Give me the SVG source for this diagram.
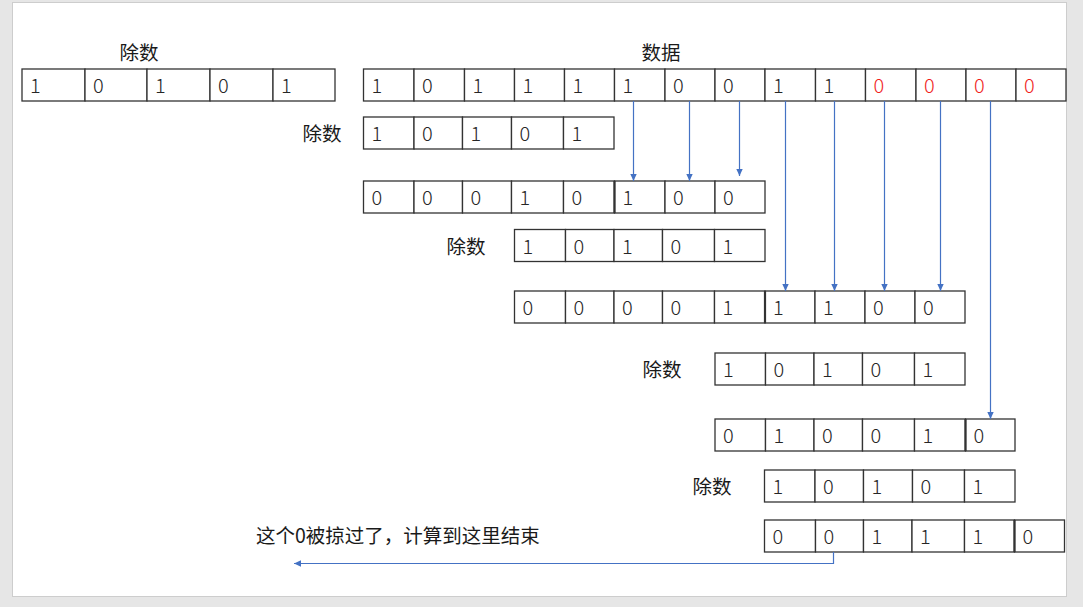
<svg xmlns="http://www.w3.org/2000/svg" width="1083" height="607" viewBox="0 0 1083 607">
<style>
.c{fill:#fff;stroke:#333;stroke-width:1.3}
.sp{stroke:#333;stroke-width:2.2}
.d{font-family:"Noto Sans CJK SC","Liberation Sans",sans-serif;font-size:20px;font-weight:300;fill:#262626}
.r{fill:#f01e1e}
.l{font-family:"Noto Sans CJK SC",sans-serif;font-size:19.5px;fill:#1a1a1a}
.a{stroke:#4472C4;stroke-width:1.2;fill:none}
</style>
<defs>
<marker id="ah" markerUnits="userSpaceOnUse" markerWidth="8" markerHeight="8" viewBox="0 0 8 8" refX="7" refY="4" orient="auto">
<path d="M0,0.8 L7,4 L0,7.2 Z" fill="#4472C4"/>
</marker>
</defs>
<rect x="0" y="0" width="1083" height="607" fill="#e6e6e6"/>
<rect x="12.5" y="2.5" width="1054" height="594" fill="#fff" stroke="#cdcdcd" stroke-width="1"/>

<g id="label-divisor-top"><text class="l" x="139" y="60" text-anchor="middle">除数</text></g>
<g id="label-data"><text class="l" x="661" y="60" text-anchor="middle">数据</text></g>

<g id="row-divisor-top">
<rect class="c" x="22" y="69" width="63" height="32"/><rect class="c" x="85" y="69" width="62" height="32"/><rect class="c" x="147" y="69" width="63" height="32"/><rect class="c" x="210" y="69" width="63" height="32"/><rect class="c" x="273" y="69" width="62" height="32"/>
<text class="d" x="30" y="93">1</text><text class="d" x="93" y="93">0</text><text class="d" x="155" y="93">1</text><text class="d" x="218" y="93">0</text><text class="d" x="281" y="93">1</text>
</g>

<g id="row-data">
<rect class="c" x="363.5" y="69" width="50.5" height="32"/><rect class="c" x="414" y="69" width="50.5" height="32"/><rect class="c" x="464.5" y="69" width="50" height="32"/><rect class="c" x="514.5" y="69" width="50" height="32"/><rect class="c" x="564.5" y="69" width="50" height="32"/><rect class="c" x="614.5" y="69" width="50.5" height="32"/><rect class="c" x="665" y="69" width="50" height="32"/><rect class="c" x="715" y="69" width="50" height="32"/><rect class="c" x="765" y="69" width="50.5" height="32"/><rect class="c" x="815.5" y="69" width="50" height="32"/><rect class="c" x="865.5" y="69" width="50.5" height="32"/><rect class="c" x="916" y="69" width="50" height="32"/><rect class="c" x="966" y="69" width="50" height="32"/><rect class="c" x="1016" y="69" width="50" height="32"/>
<text class="d" x="371.5" y="93">1</text><text class="d" x="422" y="93">0</text><text class="d" x="472.5" y="93">1</text><text class="d" x="522.5" y="93">1</text><text class="d" x="572.5" y="93">1</text><text class="d" x="622.5" y="93">1</text><text class="d" x="673" y="93">0</text><text class="d" x="723" y="93">0</text><text class="d" x="773" y="93">1</text><text class="d" x="823.5" y="93">1</text>
<text class="d r" x="873.5" y="93">0</text><text class="d r" x="924" y="93">0</text><text class="d r" x="974" y="93">0</text><text class="d r" x="1024" y="93">0</text>
</g>

<g id="row-divisor-1">
<text class="l" x="322" y="141" text-anchor="middle">除数</text>
<rect class="c" x="363.5" y="117" width="50.5" height="32"/><rect class="c" x="414" y="117" width="48.5" height="32"/><rect class="c" x="462.5" y="117" width="49" height="32"/><rect class="c" x="511.5" y="117" width="52" height="32"/><rect class="c" x="563.5" y="117" width="50.5" height="32"/>
<text class="d" x="371.5" y="141">1</text><text class="d" x="422" y="141">0</text><text class="d" x="470.5" y="141">1</text><text class="d" x="519.5" y="141">0</text><text class="d" x="571.5" y="141">1</text>
</g>

<g id="row-remainder-1">
<rect class="c" x="363.5" y="181" width="50.5" height="32"/><rect class="c" x="414" y="181" width="48.5" height="32"/><rect class="c" x="462.5" y="181" width="49" height="32"/><rect class="c" x="511.5" y="181" width="52" height="32"/><rect class="c" x="563.5" y="181" width="51" height="32"/><rect class="c" x="614.5" y="181" width="50.5" height="32"/><rect class="c" x="665" y="181" width="50" height="32"/><rect class="c" x="715" y="181" width="50" height="32"/>
<line class="sp" x1="614.5" y1="181" x2="614.5" y2="213"/>
<text class="d" x="371.5" y="205">0</text><text class="d" x="422" y="205">0</text><text class="d" x="470.5" y="205">0</text><text class="d" x="519.5" y="205">1</text><text class="d" x="571.5" y="205">0</text><text class="d" x="622.5" y="205">1</text><text class="d" x="673" y="205">0</text><text class="d" x="723" y="205">0</text>
</g>

<g id="row-divisor-2">
<text class="l" x="466" y="253.5" text-anchor="middle">除数</text>
<rect class="c" x="514.5" y="229.5" width="51" height="32"/><rect class="c" x="565.5" y="229.5" width="48.5" height="32"/><rect class="c" x="614" y="229.5" width="48.5" height="32"/><rect class="c" x="662.5" y="229.5" width="52" height="32"/><rect class="c" x="714.5" y="229.5" width="50.5" height="32"/>
<text class="d" x="522.5" y="253.5">1</text><text class="d" x="573.5" y="253.5">0</text><text class="d" x="622" y="253.5">1</text><text class="d" x="670.5" y="253.5">0</text><text class="d" x="722.5" y="253.5">1</text>
</g>

<g id="row-remainder-2">
<rect class="c" x="514.5" y="291" width="51" height="32"/><rect class="c" x="565.5" y="291" width="48.5" height="32"/><rect class="c" x="614" y="291" width="48.5" height="32"/><rect class="c" x="662.5" y="291" width="52" height="32"/><rect class="c" x="714.5" y="291" width="50.5" height="32"/><rect class="c" x="765" y="291" width="50" height="32"/><rect class="c" x="815" y="291" width="50" height="32"/><rect class="c" x="865" y="291" width="50" height="32"/><rect class="c" x="915" y="291" width="50" height="32"/>
<line class="sp" x1="765" y1="291" x2="765" y2="323"/>
<text class="d" x="522.5" y="315">0</text><text class="d" x="573.5" y="315">0</text><text class="d" x="622" y="315">0</text><text class="d" x="670.5" y="315">0</text><text class="d" x="722.5" y="315">1</text><text class="d" x="773" y="315">1</text><text class="d" x="823" y="315">1</text><text class="d" x="873" y="315">0</text><text class="d" x="923" y="315">0</text>
</g>

<g id="row-divisor-3">
<text class="l" x="662" y="377" text-anchor="middle">除数</text>
<rect class="c" x="715" y="353" width="50.5" height="32"/><rect class="c" x="765.5" y="353" width="48.5" height="32"/><rect class="c" x="814" y="353" width="48.5" height="32"/><rect class="c" x="862.5" y="353" width="52" height="32"/><rect class="c" x="914.5" y="353" width="50.5" height="32"/>
<text class="d" x="723" y="377">1</text><text class="d" x="773.5" y="377">0</text><text class="d" x="822" y="377">1</text><text class="d" x="870.5" y="377">0</text><text class="d" x="922.5" y="377">1</text>
</g>

<g id="row-remainder-3">
<rect class="c" x="715" y="419" width="50.5" height="32"/><rect class="c" x="765.5" y="419" width="48.5" height="32"/><rect class="c" x="814" y="419" width="48.5" height="32"/><rect class="c" x="862.5" y="419" width="52" height="32"/><rect class="c" x="914.5" y="419" width="51" height="32"/><rect class="c" x="965.5" y="419" width="49.5" height="32"/>
<line class="sp" x1="965.5" y1="419" x2="965.5" y2="451"/>
<text class="d" x="723" y="443">0</text><text class="d" x="773.5" y="443">1</text><text class="d" x="822" y="443">0</text><text class="d" x="870.5" y="443">0</text><text class="d" x="922.5" y="443">1</text><text class="d" x="973.5" y="443">0</text>
</g>

<g id="row-divisor-4">
<text class="l" x="712" y="494" text-anchor="middle">除数</text>
<rect class="c" x="764.5" y="470" width="50.5" height="32"/><rect class="c" x="815" y="470" width="48.5" height="32"/><rect class="c" x="863.5" y="470" width="49" height="32"/><rect class="c" x="912.5" y="470" width="52" height="32"/><rect class="c" x="964.5" y="470" width="50.5" height="32"/>
<text class="d" x="772.5" y="494">1</text><text class="d" x="823" y="494">0</text><text class="d" x="871.5" y="494">1</text><text class="d" x="920.5" y="494">0</text><text class="d" x="972.5" y="494">1</text>
</g>

<g id="row-remainder-4">
<rect class="c" x="764.5" y="520" width="51" height="32"/><rect class="c" x="815.5" y="520" width="48" height="32"/><rect class="c" x="863.5" y="520" width="48.5" height="32"/><rect class="c" x="912" y="520" width="52.5" height="32"/><rect class="c" x="964.5" y="520" width="50" height="32"/><rect class="c" x="1014.5" y="520" width="50" height="32"/>
<line class="sp" x1="1014.5" y1="520" x2="1014.5" y2="552"/>
<text class="d" x="772.5" y="544">0</text><text class="d" x="823.5" y="544">0</text><text class="d" x="871.5" y="544">1</text><text class="d" x="920" y="544">1</text><text class="d" x="972.5" y="544">1</text><text class="d" x="1022.5" y="544">0</text>
</g>

<g id="note"><text class="l" x="256" y="543">这个0被掠过了，计算到这里结束</text></g>

<g id="connectors">
<line class="a" x1="633.5" y1="101" x2="633.5" y2="181" marker-end="url(#ah)"/>
<line class="a" x1="689.5" y1="101" x2="689.5" y2="181" marker-end="url(#ah)"/>
<line class="a" x1="739.5" y1="101" x2="739.5" y2="176" marker-end="url(#ah)"/>
<line class="a" x1="785.5" y1="101" x2="785.5" y2="291" marker-end="url(#ah)"/>
<line class="a" x1="834.5" y1="101" x2="834.5" y2="291" marker-end="url(#ah)"/>
<line class="a" x1="884.5" y1="101" x2="884.5" y2="291" marker-end="url(#ah)"/>
<line class="a" x1="940.5" y1="101" x2="940.5" y2="291" marker-end="url(#ah)"/>
<line class="a" x1="990.5" y1="101" x2="990.5" y2="419" marker-end="url(#ah)"/>
<path class="a" d="M833.5,552 V563.5 H294" marker-end="url(#ah)"/>
</g>
</svg>
